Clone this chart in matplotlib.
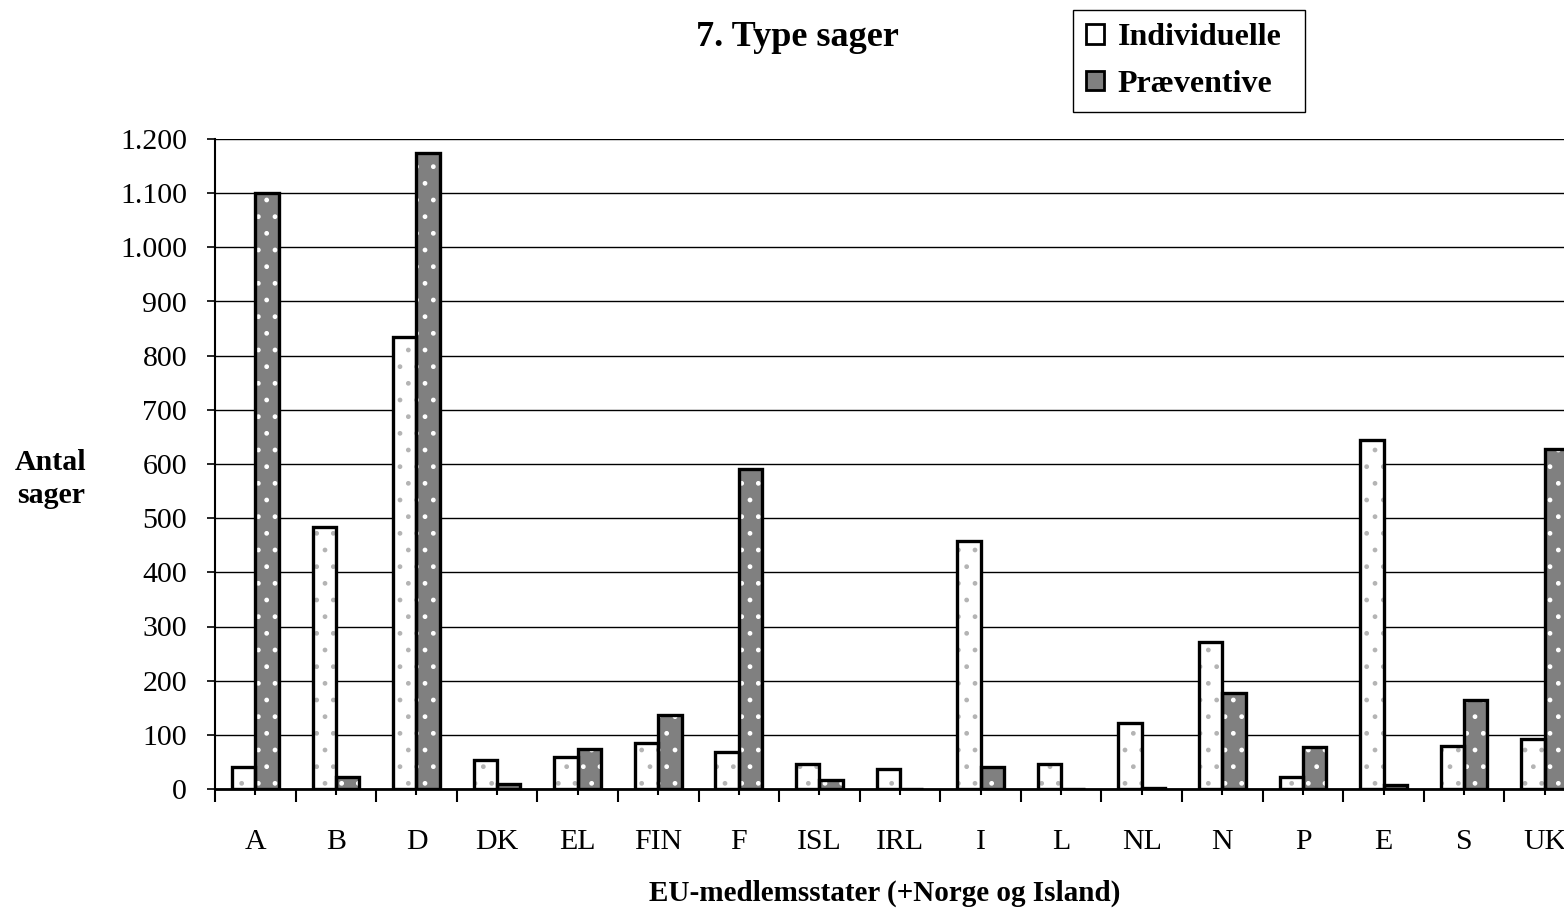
import matplotlib
matplotlib.use("Agg")
import matplotlib.pyplot as plt
import numpy as np
from matplotlib.patches import Patch
from matplotlib.ticker import FuncFormatter, MultipleLocator

plt.rcParams["font.family"] = ["Liberation Serif", "DejaVu Serif"]
plt.rcParams["hatch.linewidth"] = 1.0

countries = ["A", "B", "D", "DK", "EL", "FIN", "F", "ISL", "IRL", "I", "L", "NL", "N", "P", "E", "S", "UK"]
individuelle = [40, 484, 834, 54, 59, 85, 69, 47, 37, 457, 47, 121, 272, 22, 644, 79, 93]
praeventive = [1100, 22, 1174, 9, 74, 136, 590, 17, 0, 40, 0, 2, 177, 78, 7, 164, 627]

W, H = 1564, 911
fig = plt.figure(figsize=(W / 100, H / 100), dpi=100)
# plot area runs a little past the right edge, as in the source
ax = fig.add_axes([215 / W, 1 - 789 / H, (1585 - 215) / W, (789 - 139) / H])

x = np.arange(len(countries))
bw = 0.29

# filled + dotted bars, then black outlines on top
ax.bar(x - bw / 2, individuelle, bw, color="white", edgecolor="#b4b4b4", hatch=".", linewidth=0, zorder=3)
ax.bar(x + bw / 2, praeventive, bw, color="#808080", edgecolor="white", hatch=".", linewidth=0, zorder=3)
ax.bar(x - bw / 2, individuelle, bw, fill=False, edgecolor="black", linewidth=2.4, zorder=4)
ax.bar(x + bw / 2, praeventive, bw, fill=False, edgecolor="black", linewidth=2.4, zorder=4)

ax.set_xlim(-0.5, len(countries) - 0.5)
ax.set_ylim(0, 1200)
ax.yaxis.set_major_locator(MultipleLocator(100))
ax.yaxis.set_major_formatter(FuncFormatter(lambda v, p: f"{int(v):,}".replace(",", ".")))
ax.grid(axis="y", color="black", linewidth=1.0, zorder=0)
ax.set_axisbelow(True)

ax.set_xticks(np.arange(len(countries) + 1) - 0.5)
ax.set_xticklabels([])
ax.set_xticks(x, countries, minor=True)
ax.tick_params(axis="x", which="major", direction="out", length=9, width=1.5)
ax.tick_params(axis="x", which="minor", direction="inout", length=8, width=1.5, pad=25, labelsize=21.5)
ax.tick_params(axis="y", direction="out", length=6, width=1.2, pad=14, labelsize=21.5)

for side in ["top", "right"]:
    ax.spines[side].set_visible(False)
ax.spines["left"].set_linewidth(1.5)
ax.spines["bottom"].set_linewidth(2.0)

fig.text(797 / W, 1 - 38 / H, "7. Type sager", ha="center", va="center", fontsize=26, fontweight="bold")
fig.text(51 / W, 1 - 479 / H, "Antal\nsager", ha="center", va="center", fontsize=21.5, fontweight="bold",
         linespacing=1.25)
fig.text(885 / W, 1 - 893 / H, "EU-medlemsstater (+Norge og Island)", ha="center", va="center",
         fontsize=21, fontweight="bold")

handles = [
    Patch(facecolor="white", edgecolor="black", linewidth=2),
    Patch(facecolor="#808080", edgecolor="black", linewidth=2),
]
leg = fig.legend(handles, ["Individuelle", "Præventive"], loc="upper left",
                 bbox_to_anchor=(1073 / W, 1 - 112 / H, (1305 - 1073) / W, 102 / H), mode="expand",
                 fancybox=False, framealpha=1,
                 edgecolor="black", prop={"weight": "bold", "size": 23},
                 handlelength=0.56, handleheight=0.56, handletextpad=0.42,
                 labelspacing=0.55, borderpad=0.42, borderaxespad=0)
leg.get_frame().set_linewidth(1.0)

fig.savefig("out.png", dpi=100)
